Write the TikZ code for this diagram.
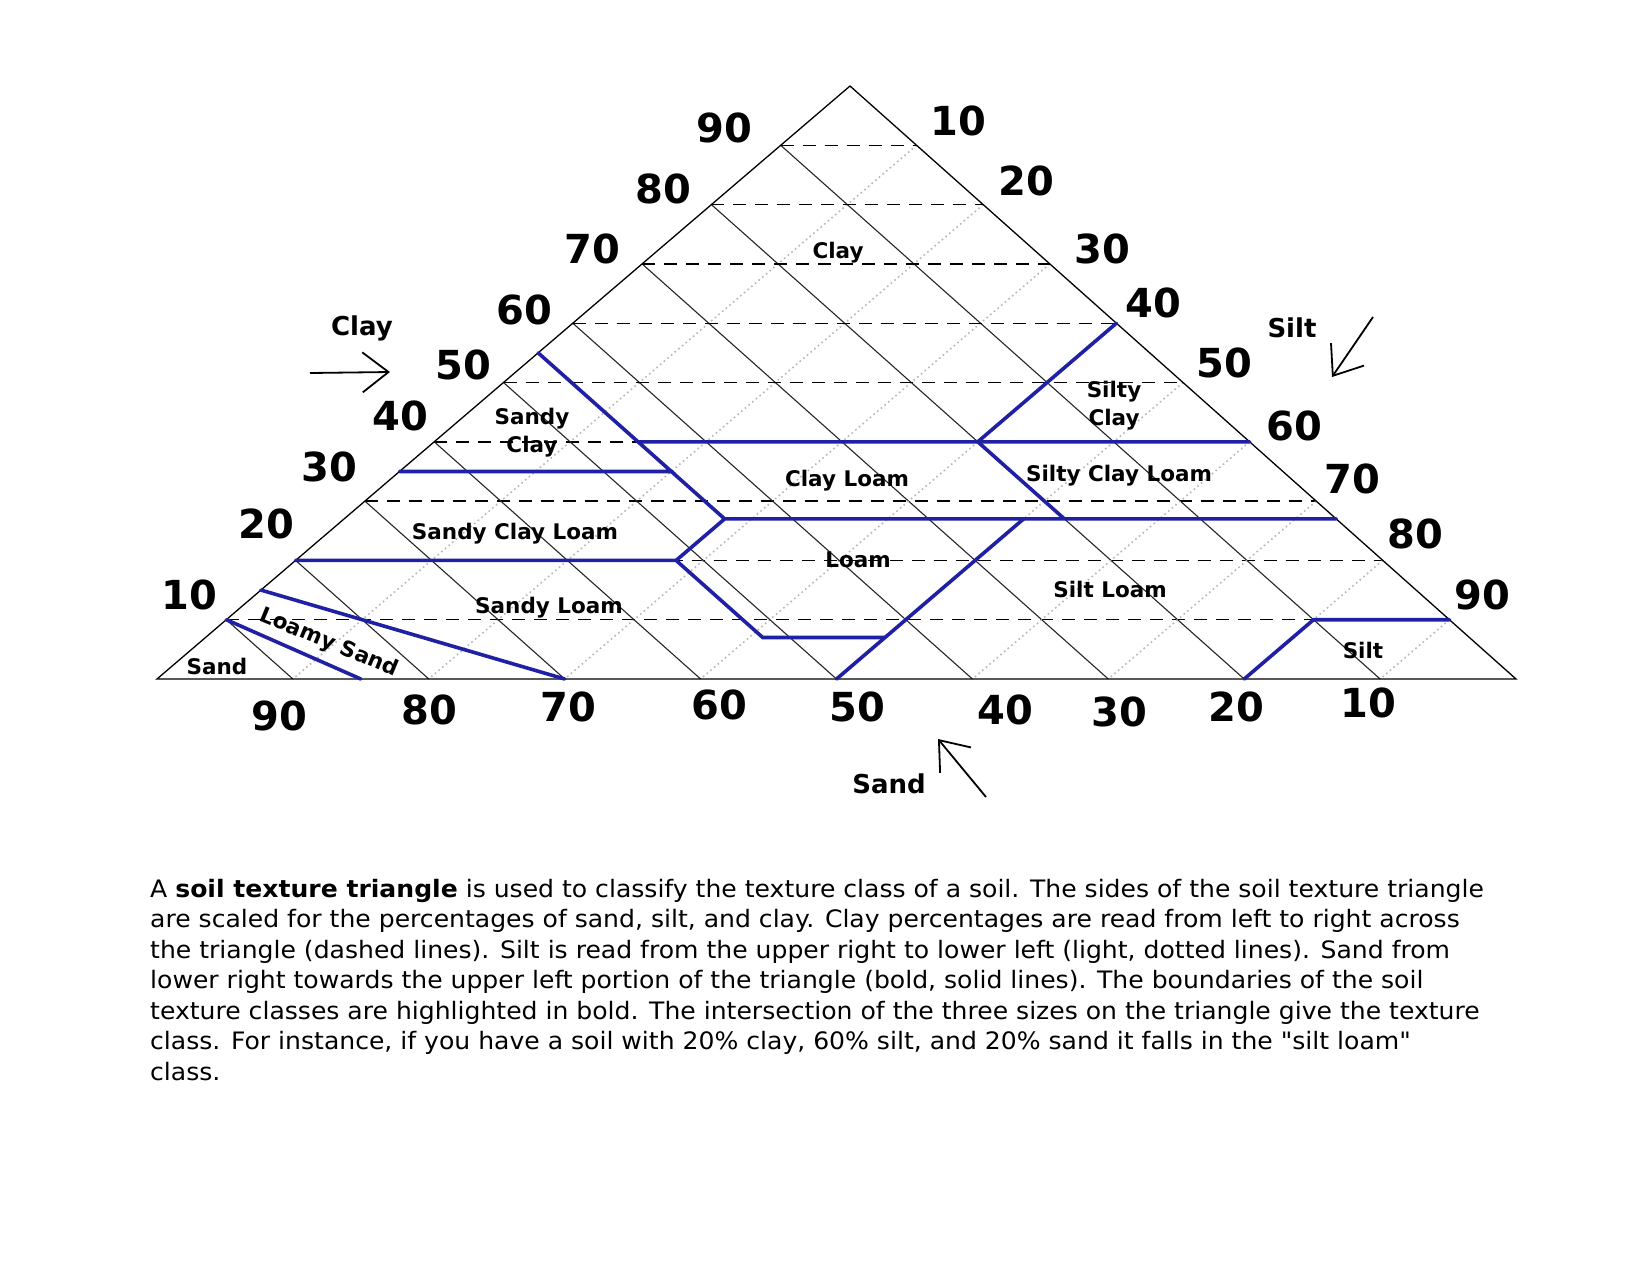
\documentclass[tikz,border=0pt]{standalone}
\usepackage{fontspec}
\setmainfont{DejaVu Sans}
\newfontfamily\parafont[FakeStretch=1.045]{DejaVu Sans}
\usetikzlibrary{arrows.meta}
\definecolor{bnd}{RGB}{32,32,165}
\begin{document}
\begin{tikzpicture}[x=1pt,y=-1pt,
  num/.style={font=\fontsize{40}{40}\selectfont\bfseries, inner sep=0pt},
  cls/.style={font=\fontsize{21.5}{28}\selectfont\bfseries, inner sep=0pt, align=center},
  axl/.style={font=\fontsize{26}{26}\selectfont\bfseries, inner sep=0pt},
  claygrid/.style={line width=1.4pt, dash pattern=on 13pt off 9pt},
  sandgrid/.style={line width=1.1pt, black!85},
  siltgrid/.style={line width=1.6pt, black!28, dash pattern=on 1.6pt off 3.2pt},
  tri/.style={line width=1.3pt},
  bound/.style={line width=3.6pt, bnd, line cap=round},
  axarrow/.style={line width=1.8pt, -{Straight Barb[length=26pt,width=40pt]}},
  para/.style={font=\parafont\fontsize{24}{30.5}\selectfont, inner sep=0pt, anchor=base west}
]
\fill[white] (0,0) rectangle (1650,1275);
\useasboundingbox (0,0) rectangle (1650,1275);

% triangle corners: BL = 100% sand, BR = 100% silt, AP = 100% clay
\coordinate (BL) at (157,679);
\coordinate (BR) at (1516,679);
\coordinate (AP) at (850,86);

% grid lines
\foreach \v in {10,20,...,90} {
  \pgfmathsetmacro\a{\v/100}
  \pgfmathsetmacro\b{1-\a}
  \draw[siltgrid] (barycentric cs:BL=0,BR=\a,AP=\b) -- (barycentric cs:BL=\b,BR=\a,AP=0);
  \draw[claygrid] (barycentric cs:BL=\b,BR=0,AP=\a) -- (barycentric cs:BL=0,BR=\b,AP=\a);
  \draw[sandgrid] (barycentric cs:BL=\a,BR=0,AP=\b) -- (barycentric cs:BL=\a,BR=\b,AP=0);
}
\draw[tri] (BL) -- (BR) -- (AP) -- cycle;

% texture class boundary points (sand, silt, clay fractions)
\coordinate (sa) at (barycentric cs:BL=.90,BR=0,AP=.10);
\coordinate (sb) at (barycentric cs:BL=.85,BR=.15,AP=0);
\coordinate (la) at (barycentric cs:BL=.85,BR=0,AP=.15);
\coordinate (lb) at (barycentric cs:BL=.70,BR=.30,AP=0);
\coordinate (ca) at (barycentric cs:BL=.80,BR=0,AP=.20);
\coordinate (cb) at (barycentric cs:BL=.52,BR=.28,AP=.20);
\coordinate (cc) at (barycentric cs:BL=.52,BR=.41,AP=.07);
\coordinate (cd) at (barycentric cs:BL=.43,BR=.50,AP=.07);
\coordinate (ce) at (barycentric cs:BL=.50,BR=.50,AP=0);
\coordinate (cf) at (barycentric cs:BL=.23,BR=.50,AP=.27);
\coordinate (cg) at (barycentric cs:BL=.45,BR=.28,AP=.27);
\coordinate (ch) at (barycentric cs:BL=0,BR=.73,AP=.27);
\coordinate (ci) at (barycentric cs:BL=.65,BR=0,AP=.35);
\coordinate (cj) at (barycentric cs:BL=.45,BR=.20,AP=.35);
\coordinate (ck) at (barycentric cs:BL=.45,BR=0,AP=.55);
\coordinate (cl) at (barycentric cs:BL=.45,BR=.15,AP=.40);
\coordinate (cm) at (barycentric cs:BL=0,BR=.60,AP=.40);
\coordinate (cn) at (barycentric cs:BL=.20,BR=.40,AP=.40);
\coordinate (co) at (barycentric cs:BL=.20,BR=.53,AP=.27);
\coordinate (cp) at (barycentric cs:BL=0,BR=.40,AP=.60);
\coordinate (cq) at (barycentric cs:BL=.20,BR=.80,AP=0);
\coordinate (cr) at (barycentric cs:BL=.10,BR=.80,AP=.10);
\coordinate (ct) at (barycentric cs:BL=0,BR=.90,AP=.10);

\draw[bound] (sa) -- (sb);
\draw[bound] (la) -- (lb);
\draw[bound] (ca) -- (cb) -- (cc) -- (cd);
\draw[bound] (ce) -- (cf);
\draw[bound] (cb) -- (cg) -- (ch);
\draw[bound] (ci) -- (cj) -- (ck);
\draw[bound] (cj) -- (cg);
\draw[bound] (cl) -- (cm);
\draw[bound] (cn) -- (co);
\draw[bound] (cn) -- (cp);
\draw[bound] (cq) -- (cr) -- (ct);

% clay scale (left)
\node[num] (l90) at (724,128) {90};
\node[num] (l80) at (663,189) {80};
\node[num] (l70) at (592,249) {70};
\node[num] (l60) at (524,310) {60};
\node[num] (l50) at (463,365) {50};
\node[num] (l40) at (400,416) {40};
\node[num] (l30) at (329,467) {30};
\node[num] (l20) at (266,524) {20};
\node[num] (l10) at (189,595) {10};
% silt scale (right)
\node[num] (r10) at (958,121) {10};
\node[num] (r20) at (1026,181) {20};
\node[num] (r30) at (1102,249) {30};
\node[num] (r40) at (1153,303) {40};
\node[num] (r50) at (1224,363) {50};
\node[num] (r60) at (1294,426) {60};
\node[num] (r70) at (1352,479) {70};
\node[num] (r80) at (1415,534) {80};
\node[num] (r90) at (1482,595) {90};
% sand scale (bottom)
\node[num] (b90) at (279,716) {90};
\node[num] (b80) at (429,710) {80};
\node[num] (b70) at (568,707) {70};
\node[num] (b60) at (719,705) {60};
\node[num] (b50) at (857,707) {50};
\node[num] (b40) at (1005,710) {40};
\node[num] (b30) at (1119,712) {30};
\node[num] (b20) at (1236,707) {20};
\node[num] (b10) at (1368,703) {10};

% axis titles and arrows
\node[axl] (tclay) at (362,328) {Clay};
\node[axl] (tsilt) at (1292,328) {Silt};
\node[axl] (tsand) at (889,784) {Sand};
\coordinate (clayA) at (310,373);
\coordinate (clayB) at (390,372);
\coordinate (siltA) at (1373,317);
\coordinate (siltB) at (1332,377);
\coordinate (sandA) at (986,797);
\coordinate (sandB) at (938,739);
\draw[axarrow] (clayA) -- (clayB);
\draw[axarrow] (siltA) -- (siltB);
\draw[axarrow] (sandA) -- (sandB);

% class names
\node[cls] (nclay) at (838,253) {Clay};
\node[cls] (nsc) at (532,433) {Sandy\\Clay};
\node[cls] (ncl) at (847,481) {Clay Loam};
\node[cls] (nsic) at (1114,406) {Silty\\Clay};
\node[cls] (nsicl) at (1119,476) {Silty Clay Loam};
\node[cls] (nscl) at (515,534) {Sandy Clay Loam};
\node[cls] (nloam) at (858,560) {Loam};
\node[cls] (nsil) at (1110,589) {Silt Loam};
\node[cls] (nsl) at (549,608) {Sandy Loam};
\node[cls] (nsand) at (217,666) {Sand};
\node[cls] (nsilt) at (1363,650) {Silt};
\node[cls, rotate=-22.5] (nls) at (329,643) {Loamy Sand};

% caption
\node[para] (p1) at (150,897) {A \textbf{soil texture triangle} is used to classify the texture class of a soil. The sides of the soil texture triangle};
\node[para] (p2) at (150,927.5) {are scaled for the percentages of sand, silt, and clay. Clay percentages are read from left to right across};
\node[para] (p3) at (150,958) {the triangle (dashed lines). Silt is read from the upper right to lower left (light, dotted lines). Sand from};
\node[para] (p4) at (150,988.5) {lower right towards the upper left portion of the triangle (bold, solid lines). The boundaries of the soil};
\node[para] (p5) at (150,1019) {texture classes are highlighted in bold. The intersection of the three sizes on the triangle give the texture};
\node[para] (p6) at (150,1049.5) {class. For instance, if you have a soil with 20\% clay, 60\% silt, and 20\% sand it falls in the \symbol{34}silt loam\symbol{34}};
\node[para] (p7) at (150,1080) {class.};
\end{tikzpicture}
\end{document}
